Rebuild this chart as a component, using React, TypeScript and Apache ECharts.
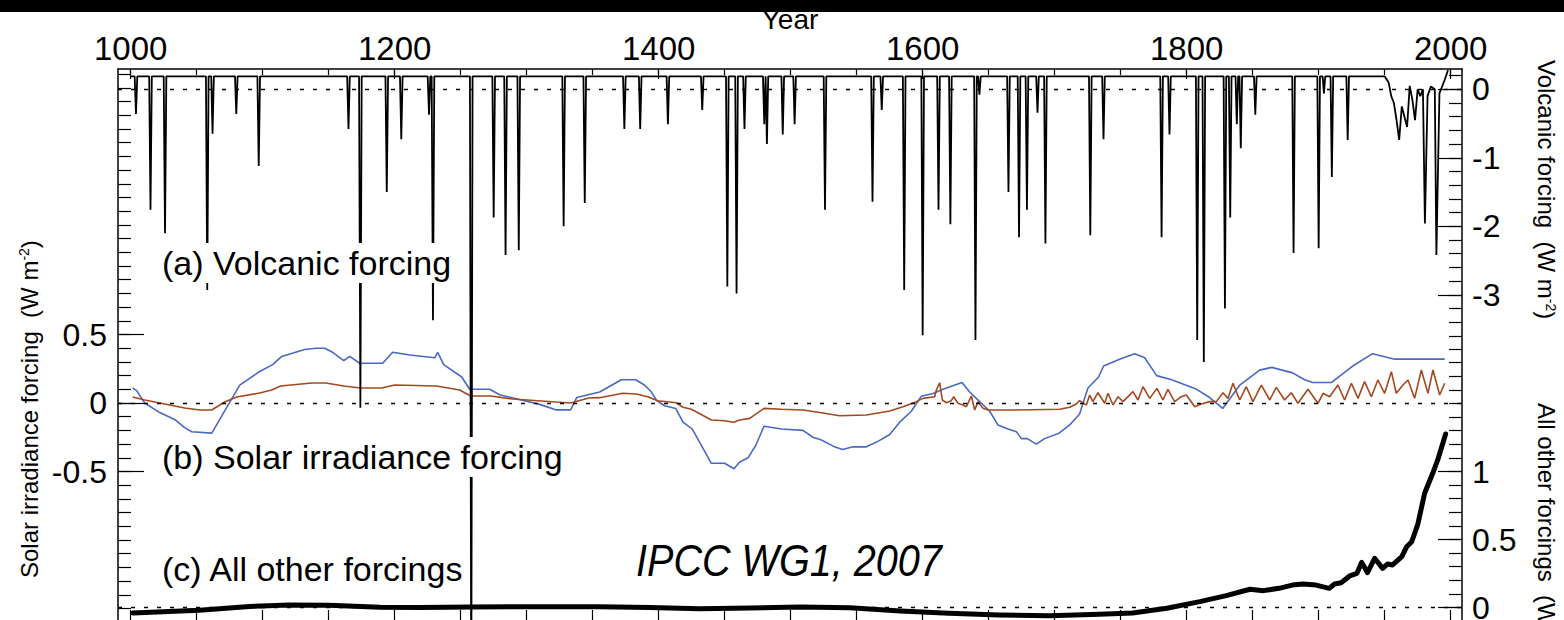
import React, { useEffect, useRef } from "react";
import * as echarts from "echarts";

const FONT = '"Liberation Sans", Arial, Helvetica, sans-serif';

// ---------- axes: tick values & labels ----------
const yearLabels = [1000, 1200, 1400, 1600, 1800, 2000];
const yearTicks = [1000, 1050, 1100, 1150, 1200, 1250, 1300, 1350, 1400, 1450, 1500, 1550, 1600, 1650, 1700, 1750, 1800, 1850, 1900, 1950, 2000];
const solarLabels = [-0.5, 0, 0.5];
const volcanicLabels = [0, -1, -2, -3];
const otherLabels = [0, 0.5, 1];

// ---------- (a) volcanic forcing ----------
const volcanicBaseline = 0.19;
const volcanicSpikeYears = [1004, 1015, 1026, 1058, 1062, 1080, 1097, 1165, 1174, 1194, 1205, 1226, 1229, 1258, 1275, 1284, 1294, 1328, 1344, 1374, 1386, 1407, 1433, 1452, 1459, 1465, 1480, 1482, 1494, 1503, 1526, 1562, 1569, 1586, 1600, 1612, 1621, 1640, 1643, 1665, 1673, 1679, 1687, 1693, 1727, 1737, 1781, 1787, 1808, 1813, 1829, 1833, 1838, 1841, 1852, 1881, 1900, 1904, 1910, 1922];
const volcanicSpikeValues = [-0.36, -1.76, -2.1, -2.93, -0.65, -0.36, -1.12, -0.58, -4.65, -1.5, -0.73, -0.37, -3.37, -9.0, -1.87, -2.42, -2.35, -2.0, -1.66, -0.58, -0.58, -0.51, -0.3, -2.88, -2.98, -0.58, -0.51, -0.8, -0.66, -0.51, -1.76, -1.64, -0.3, -2.93, -3.59, -1.76, -1.97, -3.66, -0.08, -1.5, -2.16, -1.76, -0.34, -2.25, -2.13, -0.73, -2.16, -0.66, -3.66, -3.98, -3.2, -1.87, -0.51, -0.86, -0.37, -2.39, -2.32, -0.06, -1.28, -0.74];
const volcanicRecentYears = [1950, 1953, 1955, 1957, 1959, 1961, 1963, 1965, 1967, 1969, 1971, 1973, 1975, 1977, 1979, 1980.5, 1982.5, 1985, 1988, 1989.2, 1991.5, 1995.5, 1998];
const volcanicRecentValues = [0.19, 0.1, -0.1, -0.2, -0.45, -0.74, -0.25, -0.4, -0.55, 0.05, -0.15, -0.45, 0.0, -0.1, 0.0, -1.96, -0.1, 0.04, 0.0, -2.42, -0.06, 0.14, 0.28];

// ---------- (b) solar irradiance forcing ----------
const solarBlueYears = [1001.5, 1004.5, 1010.6, 1022, 1033.3, 1040.9, 1046.2, 1061.4, 1082.6, 1097.7, 1107.6, 1114.4, 1131.8, 1140.2, 1147, 1153, 1161.4, 1165.9, 1173.5, 1190.9, 1198.5, 1211.4, 1230.3, 1232.6, 1237.1, 1250.8, 1256.8, 1272, 1279.5, 1309.8, 1322, 1333.3, 1337.9, 1355.3, 1371.7, 1382.6, 1389.4, 1394.5, 1398.3, 1404.5, 1412.9, 1418.4, 1425.5, 1439.9, 1450, 1457, 1461.4, 1467.7, 1473.5, 1479.8, 1493, 1509.3, 1516.9, 1523.3, 1533.3, 1539.2, 1547.2, 1557.3, 1566.1, 1575, 1582.6, 1591.4, 1599, 1607.8, 1615.4, 1629.8, 1635.6, 1643.2, 1650.8, 1657, 1664.6, 1671, 1674.8, 1679.3, 1686.1, 1692.4, 1703.3, 1711.4, 1718.9, 1725.2, 1733.3, 1737.1, 1749.2, 1760.6, 1768.2, 1777.3, 1788.6, 1807.6, 1817.4, 1827.3, 1840.2, 1855.3, 1864.4, 1880.3, 1889.4, 1895.5, 1909.8, 1925.8, 1940.9, 1957.6, 1995.5];
const solarBlueValues = [0.11, 0.09, 0.0, -0.07, -0.12, -0.18, -0.21, -0.22, 0.13, 0.23, 0.28, 0.34, 0.39, 0.4, 0.4, 0.37, 0.31, 0.34, 0.29, 0.29, 0.37, 0.35, 0.33, 0.37, 0.28, 0.19, 0.1, 0.1, 0.06, -0.01, -0.05, -0.05, 0.04, 0.08, 0.17, 0.17, 0.13, 0.08, 0.02, -0.02, -0.04, -0.14, -0.19, -0.44, -0.44, -0.48, -0.43, -0.4, -0.31, -0.17, -0.19, -0.2, -0.25, -0.27, -0.32, -0.34, -0.32, -0.32, -0.28, -0.23, -0.14, -0.06, 0.05, 0.07, 0.1, 0.15, 0.08, 0.01, -0.06, -0.16, -0.19, -0.21, -0.26, -0.26, -0.3, -0.26, -0.22, -0.16, -0.08, 0.11, 0.19, 0.27, 0.32, 0.36, 0.33, 0.2, 0.17, 0.1, 0.04, -0.04, 0.13, 0.24, 0.26, 0.22, 0.17, 0.15, 0.15, 0.27, 0.36, 0.32, 0.32];

const solarBrownYears = [1001.5, 1010.6, 1025.8, 1040.9, 1052.3, 1061.4, 1071.2, 1080.3, 1097.7, 1106.8, 1113.6, 1137.1, 1147.7, 1161.4, 1174.2, 1190.2, 1200, 1231.8, 1249.2, 1257.6, 1272.7, 1289.4, 1322, 1333.3, 1347, 1355.3, 1372.7, 1383.1, 1391.7, 1399.2, 1413.4, 1418.4, 1424.8, 1439.9, 1450, 1456.8, 1461.4, 1469, 1479.8, 1493, 1509.3, 1523.3, 1537.1, 1557.3, 1575, 1585.1, 1595.2, 1600.2, 1609.1, 1610.4, 1612.9, 1614.9, 1618, 1621.7, 1623.5, 1626.7, 1630.5, 1633.1, 1636.9, 1639.4, 1641.9, 1645.7, 1649.5, 1671, 1703.8, 1711.4, 1716.4, 1718.9, 1724, 1726.5, 1729, 1732.8, 1737.9, 1740.4, 1744.2, 1748, 1751.8, 1759.3, 1763.1, 1766.9, 1772, 1777.5, 1782, 1785.8, 1790.9, 1795.9, 1799.8, 1806.1, 1811.1, 1817.4, 1822.5, 1827.5, 1831.3, 1835.1, 1840.2, 1845.2, 1850.2, 1856.6, 1862.9, 1867.9, 1874.2, 1879.3, 1884.3, 1891.9, 1899.5, 1903.3, 1908.3, 1914.6, 1919.7, 1924.8, 1929.8, 1934.8, 1939.9, 1944.9, 1950, 1955.1, 1958.8, 1963.9, 1967.7, 1972.7, 1977.8, 1982.8, 1986.6, 1991.7, 1995.5];
const solarBrownValues = [0.044, 0.022, -0.007, -0.036, -0.051, -0.051, 0.007, 0.044, 0.073, 0.095, 0.124, 0.146, 0.146, 0.124, 0.109, 0.109, 0.131, 0.124, 0.095, 0.051, 0.051, 0.029, 0.007, 0.0, 0.036, 0.039, 0.071, 0.066, 0.046, 0.017, 0.002, -0.031, -0.046, -0.124, -0.129, -0.141, -0.124, -0.112, -0.039, -0.046, -0.051, -0.071, -0.093, -0.088, -0.058, -0.027, 0.01, 0.034, 0.046, 0.095, 0.148, 0.022, 0.002, 0.017, 0.046, -0.002, -0.015, -0.027, 0.051, -0.051, 0.01, -0.039, -0.051, -0.051, -0.046, -0.031, -0.007, 0.017, -0.015, 0.058, 0.01, 0.075, -0.002, 0.071, -0.015, 0.046, 0.01, 0.083, 0.022, 0.119, 0.034, 0.107, 0.022, 0.1, 0.01, 0.046, 0.058, -0.027, -0.007, 0.01, 0.01, 0.075, 0.034, 0.144, 0.022, 0.119, 0.01, 0.131, 0.022, 0.114, 0.022, 0.075, -0.002, 0.1, -0.002, 0.071, 0.046, 0.131, 0.022, 0.144, 0.034, 0.156, 0.046, 0.168, 0.071, 0.229, 0.071, 0.131, 0.168, 0.034, 0.241, 0.071, 0.241, 0.058, 0.144];

// ---------- (c) all other forcings ----------
const otherYears = [1001.5, 1052, 1090, 1120, 1150, 1189, 1219, 1258, 1317, 1355, 1393, 1431, 1469, 1507, 1545, 1583, 1620, 1658, 1696, 1734, 1759, 1785, 1810, 1830, 1848, 1858, 1870, 1880, 1888, 1898, 1908, 1912, 1917, 1923.5, 1929, 1932.6, 1937, 1942.4, 1948.5, 1952.3, 1956, 1963, 1966.7, 1970.5, 1975, 1980.3, 1986.4, 1990.2, 1996.2];
const otherValues = [-0.04, -0.02, 0.008, 0.018, 0.016, 0.002, 0.0, 0.004, 0.006, 0.006, 0.0, -0.01, -0.004, 0.004, -0.002, -0.025, -0.042, -0.055, -0.06, -0.05, -0.04, -0.006, 0.043, 0.087, 0.134, 0.124, 0.141, 0.165, 0.173, 0.165, 0.141, 0.173, 0.182, 0.232, 0.251, 0.332, 0.256, 0.362, 0.288, 0.32, 0.313, 0.374, 0.447, 0.484, 0.607, 0.84, 0.987, 1.085, 1.276];

// ---------- layout (axis extents chosen so the three panels sit as in the figure) ----------
const XMIN = 990.38;
const XMAX = 2008.6;
const SOLAR_MIN = -1.6131;
const SOLAR_MAX = 2.438;
const VOLC_MIN = -7.8058;
const VOLC_MAX = 0.2964;
const OTHER_MIN = -0.1213;
const OTHER_MAX = 3.9596;

function steps(from: number, to: number, step: number): number[] {
  const out: number[] = [];
  const n = Math.round((to - from) / step);
  for (let i = 0; i <= n; i++) out.push(Math.round((from + i * step) * 1000) / 1000);
  return out;
}

const solarMinorTicks = steps(-1.6, 2.4, 0.1);
const volcanicMinorTicks = steps(-3.8, 0.2, 0.2);
const otherMinorTicks = steps(0, 1.8, 0.1);

function pairs(xs: number[], ys: number[]) {
  return xs.map((x, i) => [x, ys[i]]);
}

function buildVolcanic() {
  const m = new Map<number, number>();
  volcanicSpikeYears.forEach((y, i) => m.set(y, volcanicSpikeValues[i]));
  volcanicSpikeYears.forEach((y) => {
    if (!m.has(y - 1)) m.set(y - 1, volcanicBaseline);
    if (!m.has(y + 1)) m.set(y + 1, volcanicBaseline);
  });
  m.set(1000, volcanicBaseline);
  volcanicRecentYears.forEach((y, i) => m.set(y, volcanicRecentValues[i]));
  return Array.from(m.entries()).sort((a, b) => a[0] - b[0]);
}

const BLACK = "#000";
const TICK = { color: BLACK, width: 1.2 };

function yAxis(
  min: number,
  max: number,
  position: "left" | "right",
  ticks: number[],
  len: number,
  labels: number[] | null,
  showLine: boolean,
  margin: number
) {
  return {
    type: "value",
    min,
    max,
    position,
    axisLine: { show: showLine, onZero: false, lineStyle: { color: BLACK, width: 1.5 } },
    axisTick: { show: true, inside: true, length: len, customValues: ticks, lineStyle: TICK },
    axisLabel: labels
      ? {
          show: true,
          customValues: labels,
          formatter: (v: number) => String(v),
          fontSize: 32,
          color: BLACK,
          fontFamily: FONT,
          margin,
        }
      : { show: false },
    splitLine: { show: false },
  };
}

function zeroLine() {
  return {
    silent: true,
    symbol: ["none", "none"],
    label: { show: false },
    lineStyle: { color: BLACK, type: [4, 9], width: 1.3 },
    data: [{ yAxis: 0 }],
  };
}

function titleText(x: number, y: number, rotation: number, main: string) {
  return {
    type: "text",
    x,
    y,
    rotation,
    z: 120,
    style: {
      text: `{a|${main}  (W m}{s|-2}{a|)}`,
      rich: {
        a: { fontSize: 24, fontFamily: FONT, fill: BLACK },
        s: { fontSize: 14, fontFamily: FONT, fill: BLACK, verticalAlign: "top" },
      },
      align: "left",
      verticalAlign: "middle",
    },
  };
}

function panelText(y: number, text: string, padRight: number) {
  return {
    type: "text",
    x: 160,
    y,
    z: 100,
    style: {
      text,
      fontSize: 34,
      fontFamily: FONT,
      fill: BLACK,
      align: "left",
      verticalAlign: "middle",
      backgroundColor: "#fff",
      padding: [3, padRight, 3, 2],
    },
  };
}

export default function App() {
  const ref = useRef<HTMLDivElement>(null);

  useEffect(() => {
    if (!ref.current) return;
    const chart = echarts.init(ref.current, null, { renderer: "svg" });

    const xCommon = { type: "value", min: XMIN, max: XMAX, splitLine: { show: false } };

    const option: any = {
      animation: false,
      backgroundColor: "#fff",
      textStyle: { fontFamily: FONT, color: BLACK },
      grid: { left: 118, right: 102, top: 69, bottom: 16, containLabel: false, outerBoundsMode: "none" },
      xAxis: [
        {
          ...xCommon,
          position: "top",
          axisLine: { show: true, onZero: false, lineStyle: { color: BLACK, width: 1.5 } },
          axisTick: { show: true, inside: true, length: 6, customValues: yearTicks, lineStyle: TICK },
          axisLabel: {
            show: true,
            customValues: yearLabels,
            formatter: (v: number) => String(Math.round(v)),
            fontSize: 33,
            color: BLACK,
            fontFamily: FONT,
            margin: 4,
          },
        },
        {
          ...xCommon,
          position: "top",
          axisLine: { show: false, onZero: false },
          axisTick: { show: true, inside: true, length: 10, customValues: yearLabels, lineStyle: TICK },
          axisLabel: { show: false },
        },
        {
          ...xCommon,
          position: "bottom",
          axisLine: { show: true, onZero: false, lineStyle: { color: BLACK, width: 1.5 } },
          axisTick: { show: true, inside: true, length: 14, customValues: yearTicks, lineStyle: TICK },
          axisLabel: { show: false },
        },
      ],
      yAxis: [
        yAxis(SOLAR_MIN, SOLAR_MAX, "left", solarMinorTicks, 13, null, true, 0),
        yAxis(SOLAR_MIN, SOLAR_MAX, "left", solarLabels, 26, solarLabels, false, 11),
        yAxis(VOLC_MIN, VOLC_MAX, "right", volcanicMinorTicks, 13, null, true, 0),
        yAxis(VOLC_MIN, VOLC_MAX, "right", volcanicLabels, 24, volcanicLabels, false, 10),
        yAxis(OTHER_MIN, OTHER_MAX, "right", otherMinorTicks, 13, null, false, 0),
        yAxis(OTHER_MIN, OTHER_MAX, "right", otherLabels, 24, otherLabels, false, 10),
      ],
      series: [
        {
          type: "line",
          name: "Solar irradiance forcing (large)",
          xAxisIndex: 0,
          yAxisIndex: 0,
          data: pairs(solarBlueYears, solarBlueValues),
          symbol: "none",
          silent: true,
          lineStyle: { color: "#4a68c6", width: 1.6 },
          z: 3,
          markLine: zeroLine(),
        },
        {
          type: "line",
          name: "Solar irradiance forcing (small)",
          xAxisIndex: 0,
          yAxisIndex: 0,
          data: pairs(solarBrownYears, solarBrownValues),
          symbol: "none",
          silent: true,
          lineStyle: { color: "#a4491f", width: 1.6 },
          z: 4,
        },
        {
          type: "line",
          name: "All other forcings",
          xAxisIndex: 0,
          yAxisIndex: 4,
          data: pairs(otherYears, otherValues),
          symbol: "none",
          silent: true,
          lineStyle: { color: BLACK, width: 5, join: "round", cap: "round" },
          z: 5,
          markLine: zeroLine(),
        },
        {
          type: "line",
          name: "Volcanic forcing",
          xAxisIndex: 0,
          yAxisIndex: 2,
          data: buildVolcanic(),
          symbol: "none",
          silent: true,
          clip: true,
          lineStyle: { color: BLACK, width: 1.8, join: "bevel" },
          z: 6,
          markLine: zeroLine(),
        },
      ],
      graphic: [
        {
          type: "text",
          x: 790,
          y: 19,
          z: 150,
          style: { text: "Year", fontSize: 28, fontFamily: FONT, fill: BLACK, align: "center", verticalAlign: "middle" },
        },
        { type: "rect", shape: { x: 0, y: 0, width: 1564, height: 12 }, style: { fill: BLACK }, z: 200 },
        panelText(263, "(a) Volcanic forcing", 2),
        panelText(457, "(b) Solar irradiance forcing", 2),
        panelText(569, "(c) All other forcings", 0),
        {
          type: "text",
          x: 636,
          y: 561,
          scaleX: 0.9,
          z: 100,
          style: {
            text: "IPCC WG1, 2007",
            fontSize: 44,
            fontStyle: "italic",
            fontFamily: FONT,
            fill: BLACK,
            align: "left",
            verticalAlign: "middle",
          },
        },
        titleText(29, 578, Math.PI / 2, "Solar irradiance forcing"),
        titleText(1546, 60, -Math.PI / 2, "Volcanic forcing"),
        titleText(1546, 403, -Math.PI / 2, "All other forcings"),
      ],
    };

    chart.setOption(option);
    return () => chart.dispose();
  }, []);

  return (
    <div
      style={{
        position: "fixed",
        left: 0,
        top: 0,
        width: 1564,
        height: 620,
        overflow: "hidden",
        background: "#fff",
      }}
    >
      <div ref={ref} style={{ width: 1564, height: 640 }} />
    </div>
  );
}
